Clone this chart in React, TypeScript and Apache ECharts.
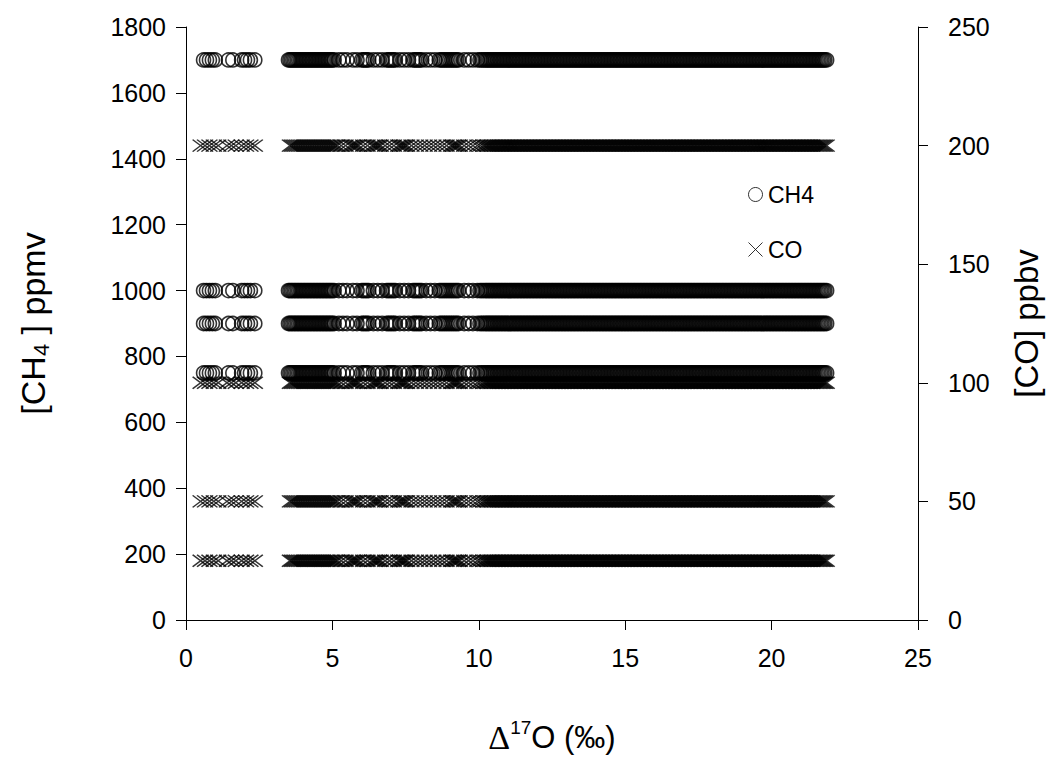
import React, { useEffect, useRef } from "react";
import * as echarts from "echarts";

// Concentration levels of the model runs
const ch4LevelsPpmv = [750, 900, 1000, 1700];
const coLevelsPpbv = [25, 50, 100, 200];

// Δ17O values (‰)
const ch4D17OLow = [0.6, 0.7, 0.8, 0.9, 1.0, 1.45, 1.6, 1.9, 2.0, 2.1, 2.2, 2.35];
const ch4D17OMid = [
  3.5, 3.55, 3.6, 3.65, 3.7, 3.75, 3.8, 3.85, 3.9, 3.95, 4.0, 4.05, 4.1, 4.15, 4.2, 4.25, 4.3,
  4.35, 4.4, 4.45, 4.5, 4.55, 4.6, 4.65, 4.7, 4.75, 4.8, 4.85, 4.9, 4.95, 5.0, 5.06,
  5.22, 5.36, 5.5, 5.7, 5.84, 6.0, 6.06, 6.12, 6.18, 6.24, 6.4, 6.55, 6.7, 6.85, 6.91, 6.97,
  7.03, 7.09, 7.15, 7.3, 7.45, 7.6, 7.75, 7.81, 7.87, 7.93, 7.99, 8.05, 8.2, 8.35, 8.5, 8.65,
  8.71, 8.77, 8.83, 8.89, 8.95, 9.01, 9.07, 9.13, 9.19, 9.25, 9.31, 9.5, 9.65, 9.8, 9.95,
  10.04, 10.1, 10.16, 10.22,
];
const coD17OLow = [0.5, 0.65, 0.8, 0.95, 1.1, 1.4, 1.55, 1.7, 1.9, 2.05, 2.2, 2.35];
const coD17OMid = [
  3.55, 3.61, 3.67, 3.73, 3.79, 3.85, 3.91, 3.97, 4.03, 4.09, 4.15, 4.21, 4.27, 4.33, 4.39,
  4.45, 4.51, 4.57, 4.63, 4.69, 4.75, 4.81, 4.87, 4.93, 4.99, 5.05, 5.11, 5.17, 5.3, 5.45,
  5.6, 5.66, 5.72, 5.78, 5.84, 5.9, 6.05, 6.2, 6.35, 6.41, 6.47, 6.53, 6.59, 6.65, 6.8, 6.95,
  7.1, 7.25, 7.31, 7.37, 7.43, 7.49, 7.55, 7.7, 7.85, 8.0, 8.15, 8.3, 8.45, 8.6, 8.75, 8.9,
  9.05, 9.11, 9.17, 9.23, 9.29, 9.35, 9.5, 9.65, 9.8, 9.95, 10.05, 10.15, 10.21,
];
const d17ODense = [
  10.27, 10.32, 10.37, 10.42, 10.47, 10.52, 10.57, 10.62, 10.67, 10.72, 10.77, 10.82, 10.87, 10.92, 10.97,
  11.02, 11.07, 11.12, 11.17, 11.22, 11.27, 11.32, 11.37, 11.42, 11.47, 11.52, 11.57, 11.62, 11.67, 11.72, 11.77, 11.82, 11.87, 11.92, 11.97,
  12.02, 12.07, 12.12, 12.17, 12.22, 12.27, 12.32, 12.37, 12.42, 12.47, 12.52, 12.57, 12.62, 12.67, 12.72, 12.77, 12.82, 12.87, 12.92, 12.97,
  13.02, 13.07, 13.12, 13.17, 13.22, 13.27, 13.32, 13.37, 13.42, 13.47, 13.52, 13.57, 13.62, 13.67, 13.72, 13.77, 13.82, 13.87, 13.92, 13.97,
  14.02, 14.07, 14.12, 14.17, 14.22, 14.27, 14.32, 14.37, 14.42, 14.47, 14.52, 14.57, 14.62, 14.67, 14.72, 14.77, 14.82, 14.87, 14.92, 14.97,
  15.02, 15.07, 15.12, 15.17, 15.22, 15.27, 15.32, 15.37, 15.42, 15.47, 15.52, 15.57, 15.62, 15.67, 15.72, 15.77, 15.82, 15.87, 15.92, 15.97,
  16.02, 16.07, 16.12, 16.17, 16.22, 16.27, 16.32, 16.37, 16.42, 16.47, 16.52, 16.57, 16.62, 16.67, 16.72, 16.77, 16.82, 16.87, 16.92, 16.97,
  17.02, 17.07, 17.12, 17.17, 17.22, 17.27, 17.32, 17.37, 17.42, 17.47, 17.52, 17.57, 17.62, 17.67, 17.72, 17.77, 17.82, 17.87, 17.92, 17.97,
  18.02, 18.07, 18.12, 18.17, 18.22, 18.27, 18.32, 18.37, 18.42, 18.47, 18.52, 18.57, 18.62, 18.67, 18.72, 18.77, 18.82, 18.87, 18.92, 18.97,
  19.02, 19.07, 19.12, 19.17, 19.22, 19.27, 19.32, 19.37, 19.42, 19.47, 19.52, 19.57, 19.62, 19.67, 19.72, 19.77, 19.82, 19.87, 19.92, 19.97,
  20.02, 20.07, 20.12, 20.17, 20.22, 20.27, 20.32, 20.37, 20.42, 20.47, 20.52, 20.57, 20.62, 20.67, 20.72, 20.77, 20.82, 20.87, 20.92, 20.97,
  21.02, 21.07, 21.12, 21.17, 21.22, 21.27, 21.32, 21.37, 21.42, 21.47, 21.52, 21.57, 21.62, 21.67, 21.72, 21.77, 21.82, 21.88,
];

const FONT = "Liberation Sans, Arial, sans-serif";
const CROSS = "path://M0,0L10,10M10,0L0,10";

export default function App() {
  const ref = useRef<HTMLDivElement>(null);
  useEffect(() => {
    const chart = echarts.init(ref.current!, null, { renderer: "svg" });
    const ch4X = [...ch4D17OLow, ...ch4D17OMid, ...d17ODense];
    const coX = [...coD17OLow, ...coD17OMid, ...d17ODense];
    const ch4Data = ch4LevelsPpmv.flatMap((y) => ch4X.map((x) => [x, y]));
    const coData = coLevelsPpbv.flatMap((y) => coX.map((x) => [x, y]));

    const axisCommon = {
      axisLine: { show: true, onZero: false, lineStyle: { color: "#000", width: 1 } },
      axisTick: { show: true, inside: false, length: 10, lineStyle: { color: "#000", width: 1 } },
      splitLine: { show: false },
    };
    const plain = (v: number) => String(v);

    chart.setOption({
      animation: false,
      backgroundColor: "#fff",
      textStyle: { fontFamily: FONT, color: "#000" },
      grid: { left: 186, right: 145, top: 27, bottom: 144 },
      legend: {
        orient: "vertical",
        left: 743,
        top: 178,
        itemGap: 32,
        itemWidth: 15,
        itemHeight: 14,
        textStyle: { fontSize: 23, color: "#000", fontFamily: FONT },
        data: [
          {
            name: "CH4",
            icon: "circle",
            itemStyle: { color: "rgba(0,0,0,0)", borderColor: "#000", borderWidth: 1 },
          },
          {
            name: "CO",
            icon: CROSS,
            itemStyle: { color: "rgba(0,0,0,0)", borderColor: "#000", borderWidth: 1 },
          },
        ],
      },
      xAxis: {
        type: "value",
        min: 0,
        max: 25,
        interval: 5,
        ...axisCommon,
        axisLabel: { fontSize: 25, color: "#000", margin: 25, fontFamily: FONT, formatter: plain },
        name: "{d|Δ}{sup|17}{a|O (‰)}",
        nameLocation: "middle",
        nameGap: 98,
        nameTextStyle: {
          fontFamily: FONT,
          color: "#000",
          fontSize: 31,
          rich: {
            d: { fontFamily: "Liberation Serif, serif", fontSize: 34, lineHeight: 38, color: "#000" },
            sup: { fontSize: 19, lineHeight: 19, verticalAlign: "top", color: "#000", fontFamily: FONT },
            a: { fontSize: 31, lineHeight: 38, color: "#000", fontFamily: FONT },
          },
        },
      },
      yAxis: [
        {
          type: "value",
          position: "left",
          min: 0,
          max: 1800,
          interval: 200,
          ...axisCommon,
          axisLabel: { fontSize: 25, color: "#000", margin: 20, fontFamily: FONT, formatter: plain },
          name: "{a|[CH}{sub|4}{a| ] ppmv}",
          nameLocation: "middle",
          nameRotate: 90,
          nameGap: 134,
          nameTextStyle: {
            fontFamily: FONT,
            color: "#000",
            fontSize: 34,
            rich: {
              a: { fontSize: 34, lineHeight: 38, color: "#000", fontFamily: FONT },
              sub: { fontSize: 22, lineHeight: 22, verticalAlign: "bottom", color: "#000", fontFamily: FONT },
            },
          },
        },
        {
          type: "value",
          position: "right",
          min: 0,
          max: 250,
          interval: 50,
          ...axisCommon,
          axisLabel: { fontSize: 25, color: "#000", margin: 30, fontFamily: FONT, formatter: plain },
          name: "[CO] ppbv",
          nameLocation: "middle",
          nameRotate: 90,
          nameGap: 92,
          nameTextStyle: { fontFamily: FONT, color: "#000", fontSize: 33 },
        },
      ],
      series: [
        {
          name: "CH4",
          type: "scatter",
          yAxisIndex: 0,
          symbol: "circle",
          symbolSize: 14,
          large: false,
          progressive: 0,
          silent: true,
          emphasis: { disabled: true },
          itemStyle: { color: "rgba(0,0,0,0)", borderColor: "#000", borderWidth: 1.6 },
          data: ch4Data,
        },
        {
          name: "CO",
          type: "scatter",
          yAxisIndex: 1,
          symbol: CROSS,
          symbolSize: [16, 12],
          large: false,
          progressive: 0,
          silent: true,
          emphasis: { disabled: true },
          itemStyle: { color: "rgba(0,0,0,0)", borderColor: "#000", borderWidth: 1.5 },
          data: coData,
        },
      ],
    });
    return () => chart.dispose();
  }, []);
  return (
    <div
      ref={ref}
      style={{ position: "fixed", left: 0, top: 0, width: 1063, height: 764 }}
    />
  );
}
